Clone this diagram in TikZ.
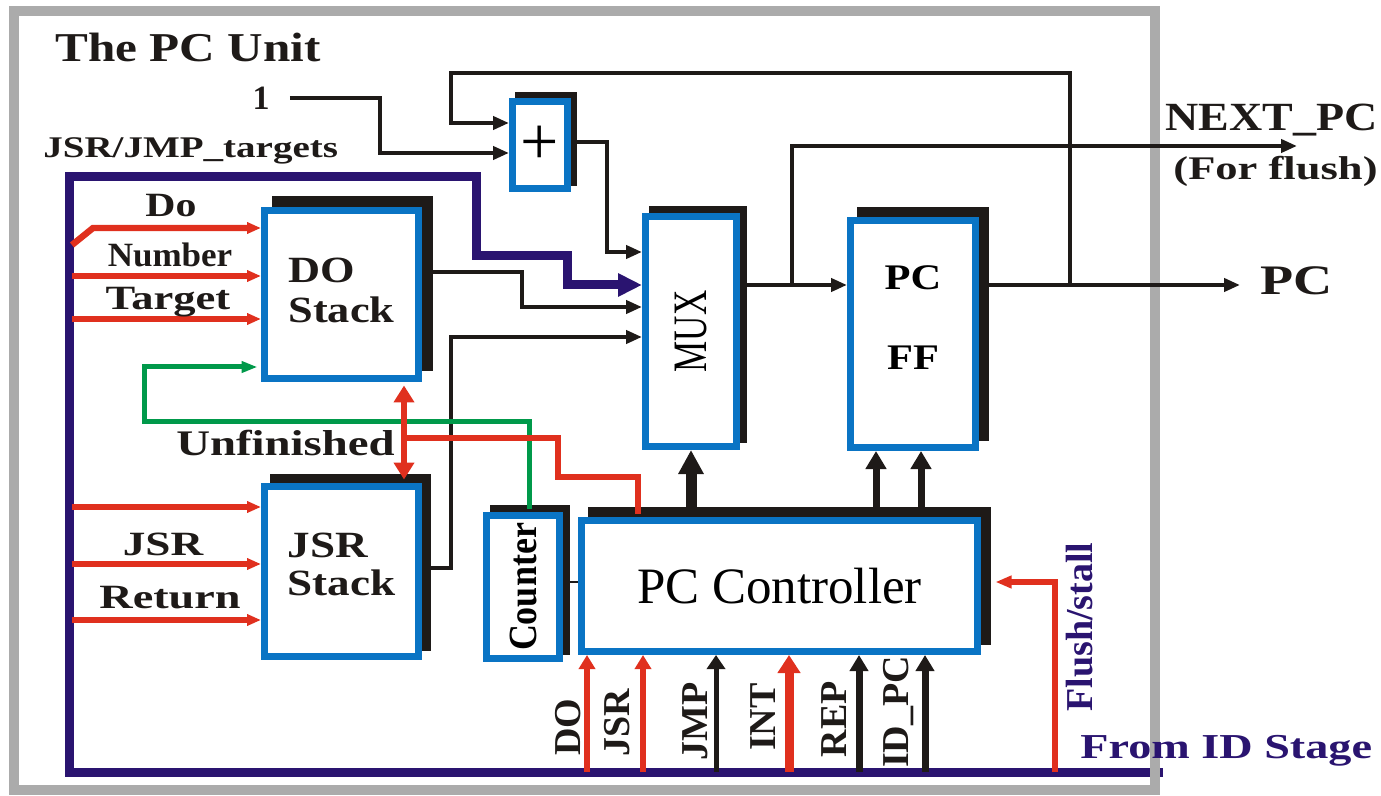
\documentclass[tikz,border=0pt]{standalone}
\usepackage{fontspec}
\usepackage{graphicx}
\setmainfont{Liberation Serif}
\usetikzlibrary{arrows.meta, shadows, backgrounds}
\definecolor{cblue}{HTML}{0A74C4}
\definecolor{cnavy}{HTML}{2A1470}
\definecolor{cred}{HTML}{E0301E}
\definecolor{cgreen}{HTML}{00994A}
\definecolor{cgrey}{HTML}{ABABAB}
\definecolor{cblack}{HTML}{1E1A18}
\newcommand{\wide}[2][1.25]{\scalebox{#1}[1]{#2}}
\tikzset{
  block/.style={draw=cblue, fill=white, line width=3.5pt, inner sep=0pt,
    copy shadow={shadow xshift=#1, shadow yshift=#1, draw=cblack, fill=cblack}},
  block/.default=5pt,
  lbl/.style={font=\bfseries\fontsize{#1}{#1}\selectfont, inner sep=0pt, text=cblack},
  lbl/.default=17,
  boxtext/.style={font=\bfseries\fontsize{18.5}{20}\selectfont, text=cblack},
  wire/.style={draw=cblack, line width=2.4pt},
  wirearrow/.style={-{Triangle[length=8pt, width=6.5pt]}},
  redline/.style={draw=cred, line width=3.2pt},
  redwire/.style={redline, -{Triangle[length=7pt, width=5.5pt]}},
  greenwire/.style={draw=cgreen, line width=2.5pt, -{Triangle[length=8pt, width=5.5pt]}},
  navybus/.style={draw=cnavy, line width=4.5pt},
  redin/.style={draw=cred, line width=2.8pt, -{Triangle[length=7pt, width=8pt]}},
  redbig/.style={draw=cred, line width=4.5pt, -{Triangle[length=9pt, width=11pt]}},
  blackin/.style={draw=cblack, line width=2.5pt, -{Triangle[length=7pt, width=9pt]}},
  blackbig/.style={draw=cblack, line width=3.5pt, -{Triangle[length=8pt, width=9pt]}},
}

\begin{document}
\begin{tikzpicture}[x=0.5pt, y=-0.5pt]
  \useasboundingbox (0,0) rectangle (1381,796);
  % ---------- blocks ----------
  \node[block=3pt, minimum width=27.5pt, minimum height=43.5pt, font=\fontsize{34}{34}\selectfont] (plus) at (540,145) {+};
  \node[block=5.5pt, minimum width=77pt, minimum height=84pt, boxtext] (dostack) at (341.5,294.5)
    {\wide[1.2]{\begin{tabular}{@{}l@{}}DO\\Stack\end{tabular}}};
  \node[block=4.5pt, minimum width=77pt, minimum height=85pt, boxtext] (jsrstack) at (341.5,571.5)
    {\raisebox{1.75pt}[\height][\depth]{\wide[1.22]{\begin{tabular}{@{}l@{}}JSR\\[-1pt]Stack\end{tabular}}}};
  \node[block=3.5pt, minimum width=45.5pt, minimum height=115pt, font=\fontsize{24}{24}\selectfont] (mux) at (691,331.5)
    {\rotatebox{90}{\wide[0.73]{MUX}}};
  \node[block, minimum width=62.5pt, minimum height=113.5pt, font=\bfseries\fontsize{18}{20}\selectfont] (pcff) at (913,334)
    {\raisebox{6pt}[\height][\depth]{\wide[1.18]{\begin{tabular}{@{}c@{}}PC\\[20pt]FF\end{tabular}}}};
  \node[block=3.5pt, minimum width=36.5pt, minimum height=71.5pt, font=\bfseries\fontsize{20}{20}\selectfont] (counter) at (523,587)
    {\rotatebox{90}{\wide[0.9]{Counter}}};
  \node[block, minimum width=198pt, minimum height=65.5pt, font=\fontsize{25.5}{25.5}\selectfont] (pcc) at (779.5,586) {PC Controller};

  % ---------- texts ----------
  \node[lbl=20.5, anchor=base west] (title) at (55,62) {\wide[1.2]{The PC Unit}};
  \node[lbl] (one) at (261,98) {1};
  \node[lbl=15, anchor=base west] (targets) at (43,158) {\wide[1.3]{JSR/JMP\_targets}};
  \node[lbl, anchor=base] (dolbl) at (171,217) {\wide[1.23]{Do}};
  \node[lbl, anchor=base] (numlbl) at (170,267) {\wide[1.03]{Number}};
  \node[lbl, anchor=base] (tgtlbl) at (168,310) {\wide[1.31]{Target}};
  \node[lbl, anchor=base] (jsrlbl) at (163,555) {\wide[1.33]{JSR}};
  \node[lbl, anchor=base] (retlbl) at (170,608) {\wide[1.36]{Return}};
  \node[lbl=18, anchor=base] (unfin) at (285.5,455) {\wide[1.3]{Unfinished}};
  \node[lbl=20, anchor=base west] (nextlbl) at (1165,131) {\wide[1.15]{NEXT\_PC}};
  \node[lbl=16.5, anchor=base west] (flushlbl) at (1173,180) {\wide[1.35]{(For flush)}};
  \node[lbl=21, anchor=base west] (pclbl) at (1260,295) {\wide[1.29]{PC}};
  \node[lbl=17.5, anchor=base west, text=cnavy] (idlbl) at (1080,758) {\wide[1.32]{From ID Stage}};
  \node[lbl=19, text=cnavy, rotate=90] (fslbl) at (1080,627) {Flush/stall};
  \foreach \x/\y/\t [count=\i] in {568/727/DO, 617/723/JSR, 695/721/JMP, 763/717/INT, 834/719/REP, 899/712/ID\_PC}
    \node[lbl=19, rotate=90] (in\i) at (\x,\y) {\t};

  % ---------- connectors under the blocks ----------
  \begin{scope}[on background layer]
    \coordinate (busend) at (1163,772);
    \draw[navybus, -{Triangle[length=12pt, width=11pt]}] (busend) -- (69,772) -- (69,177) -| (476,256) -| (567,285) -- (mux.west |- 0,285);
    \draw[cgrey, line width=5pt] (14,11) rectangle (1155,790);
    % adder and its loop
    \draw[wire, wirearrow] ([xshift=10pt]one.east) -| (380,153) -- (plus.west |- 0,153);
    \draw[wire, wirearrow] (1070,285) |- (451,73) |- (plus.west |- 0,123);
    % mux inputs
    \draw[wire, wirearrow] (plus.east |- 0,142) -| (607,252) -- (mux.west |- 0,252);
    \draw[wire, wirearrow] (dostack.east |- 0,272) -| (522,307) -- (mux.west |- 0,307);
    \draw[wire, wirearrow] (jsrstack.east |- 0,568) -| (451,337) -- (mux.west |- 0,337);
    % outputs
    \draw[wire, wirearrow] (mux.east |- 0,285) -- (pcff.west |- 0,285);
    \coordinate (pcout) at (1240,285);
    \draw[wire, wirearrow] (pcff.east |- pcout) -- (pcout);
    \coordinate (nextpc) at (1297,146);
    \draw[wire, wirearrow] (792,285) |- (nextpc);
    % controller to mux and pc ff
    \draw[wire, line width=5.5pt, -{Triangle[length=12pt, width=12pt]}] (mux.south |- pcc.north) -- (mux.south);
    \foreach \x in {876,921}
      \draw[wire, line width=3.5pt, -{Triangle[length=9pt, width=10pt]}] (\x,0 |- pcc.north) -- (\x,0 |- pcff.south);
    % inputs from the ID stage
    \foreach \x/\s in {587/redin, 643/redin, 716/blackin, 789/redbig, 859/blackbig, 925/blackbig}
      \draw[\s] (\x,772) -- (\x,0 |- pcc.south);
    \draw[redline, -{Triangle[length=8pt, width=6pt]}] (1055,772) |- ([xshift=7.25pt]pcc.east |- 0,582);
    \draw[cblack, line width=0.6pt] (counter.east |- 0,582) -- (pcc.west |- 0,582);
    % stack inputs
    \draw[redwire] (72,245) -- (93,228) -- (dostack.west |- 0,228);
    \foreach \y in {276,319}
      \draw[redwire] (72,\y) -- (dostack.west |- 0,\y);
    \foreach \y in {507,564,620}
      \draw[redwire] (72,\y) -- (jsrstack.west |- 0,\y);
  \end{scope}

  % ---------- lines over the shadows ----------
  \draw[greenwire, shorten <=1.75pt, shorten >=1.75pt] (529,0 |- counter.north) |- (144,422) |- (dostack.west |- 0,367);
  \draw[redline, {Triangle[length=8.5pt, width=10pt]}-{Triangle[length=8.5pt, width=10pt]}, shorten <=1.75pt, shorten >=1.75pt]
    (404,0 |- dostack.south) -- (404,0 |- jsrstack.north);
  \draw[redline, shorten >=1.75pt] (404,438) -| (558,477) -| (638,0 |- pcc.north);
\end{tikzpicture}
\end{document}
